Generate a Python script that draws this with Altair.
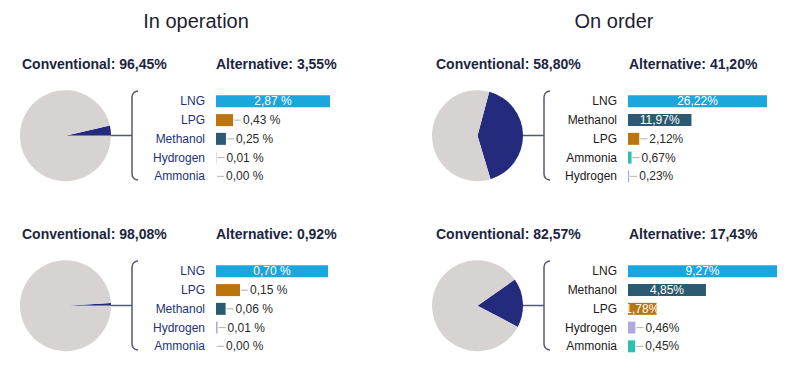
import math
import altair as alt
import pandas as pd

# ---------------- data ----------------
column_titles = ["In operation", "On order"]

conventional = [96.45, 58.80, 98.08, 82.57]   # top-left, top-right, bottom-left, bottom-right
alternative = [3.55, 41.20, 0.92, 17.43]

cats_tl = ["LNG", "LPG", "Methanol", "Hydrogen", "Ammonia"]
vals_tl = [2.87, 0.43, 0.25, 0.01, 0.00]

cats_tr = ["LNG", "Methanol", "LPG", "Ammonia", "Hydrogen"]
vals_tr = [26.22, 11.97, 2.12, 0.67, 0.23]

cats_bl = ["LNG", "LPG", "Methanol", "Hydrogen", "Ammonia"]
vals_bl = [0.70, 0.15, 0.06, 0.01, 0.00]

cats_br = ["LNG", "Methanol", "LPG", "Hydrogen", "Ammonia"]
vals_br = [9.27, 4.85, 1.78, 0.46, 0.45]

fuel_names = ["LNG", "LPG", "Methanol", "Hydrogen", "Ammonia"]
fuel_colors = ["#1ba6dd", "#bb750f", "#2c5a70", "#aeaadf", "#2ebfae"]
pie_names = ["Alternative", "Conventional"]
pie_colors = ["#242a7c", "#d7d3d2"]

FONT = "Liberation Sans"


def fmt(v):
    return f"{v:.2f}".replace(".", ",")


def panel(cats, vals, conv, altv, col, row, bar_len, n_inside, start_deg):
    W = 412 if col == 0 else 385
    H = 218 if row == 0 else 158
    dy = 0 if row == 0 else -48
    sep = " " if col == 0 else ""
    label_color = "#22327a" if col == 0 else "#1a1a1a"
    layers = []

    if row == 0:
        layers.append(
            alt.Chart(pd.DataFrame({"t": [column_titles[col]]}))
            .mark_text(font=FONT, fontSize=20, color="#1c1e33", align="center", baseline="middle")
            .encode(text="t:N", x=alt.value(196 if col == 0 else 202), y=alt.value(22))
        )

    heads = pd.DataFrame({
        "t": [f"Conventional: {fmt(conv)}%", f"Alternative: {fmt(altv)}%"],
        "x": [22 if col == 0 else 24, 216 if col == 0 else 217],
    })
    for i in range(2):
        layers.append(
            alt.Chart(heads.iloc[[i]])
            .mark_text(font=FONT, fontSize=14, fontWeight="bold", color="#1c2540",
                       align="left", baseline="middle")
            .encode(text="t:N", x=alt.value(float(heads["x"][i])), y=alt.value(65 + dy))
        )

    # pie
    pie_df = pd.DataFrame({"k": pie_names, "s": [altv, conv], "o": [0, 1]})
    s0 = math.radians(start_deg)
    layers.append(
        alt.Chart(pie_df)
        .mark_arc(radius=45.5)
        .encode(
            theta=alt.Theta("s:Q", stack=True, scale=alt.Scale(range=[s0, s0 + 2 * math.pi])),
            color=alt.Color("k:N", scale=alt.Scale(domain=pie_names, range=pie_colors), legend=None),
            order=alt.Order("o:Q"),
            x=alt.value(65.5),
            y=alt.value(135.7 + dy),
        )
    )

    line_col = "#555a72"
    # connector
    layers.append(
        alt.Chart(pd.DataFrame({"a": [0]}))
        .mark_rule(color=line_col, strokeWidth=1.5)
        .encode(x=alt.value(111), x2=alt.value(132), y=alt.value(135.5 + dy))
    )
    # bracket
    layers.append(
        alt.Chart(pd.DataFrame({"a": [0]}))
        .mark_rect(fill="white", stroke=line_col, strokeWidth=1.5, cornerRadius=6)
        .encode(x=alt.value(132), x2=alt.value(152), y=alt.value(91 + dy), y2=alt.value(180 + dy))
    )
    layers.append(
        alt.Chart(pd.DataFrame({"a": [0]}))
        .mark_rect(fill="white", strokeWidth=0)
        .encode(x=alt.value(138), x2=alt.value(155), y=alt.value(88 + dy), y2=alt.value(183 + dy))
    )

    # bars
    df = pd.DataFrame({"cat": cats, "v": vals})
    df["mid"] = df["v"] / 2
    df["lab"] = [fmt(v) + sep + "%" for v in vals]
    df["inside"] = [i < n_inside for i in range(len(cats))]

    yscale = alt.Scale(domain=cats, range=[92 + dy, 185.7 + dy], paddingInner=0.36, paddingOuter=0.18)
    xscale = alt.Scale(domain=[0, max(vals)], range=[216, 216 + bar_len], nice=False, zero=True)
    Y = alt.Y("cat:N", sort=cats, scale=yscale, axis=None, bandPosition=0.5)
    Yb = alt.Y("cat:N", sort=cats, scale=yscale, axis=None)

    base = alt.Chart(df)
    bars = base.mark_bar().encode(
        x=alt.X("v:Q", scale=xscale, axis=None),
        y=Yb,
        color=alt.Color("cat:N", scale=alt.Scale(domain=fuel_names, range=fuel_colors), legend=None),
    )
    cat_labels = base.mark_text(font=FONT, fontSize=12, color=label_color, align="right",
                                baseline="middle").encode(
        x=alt.value(205), y=Y, text="cat:N")
    inside = base.transform_filter("datum.inside").mark_text(
        font=FONT, fontSize=12, color="white", align="center", baseline="middle").encode(
        x=alt.X("mid:Q", scale=xscale, axis=None), y=Y, text="lab:N")
    leaders = base.transform_filter("!datum.inside").mark_rule(
        color="#b0b0b0", strokeWidth=1, xOffset=1, x2Offset=8).encode(
        x=alt.X("v:Q", scale=xscale, axis=None), x2="v:Q", y=Y)
    outside = base.transform_filter("!datum.inside").mark_text(
        font=FONT, fontSize=12, color="#2a2a2a", align="left", baseline="middle", dx=10).encode(
        x=alt.X("v:Q", scale=xscale, axis=None), y=Y, text="lab:N")

    bar_layer = alt.layer(bars, leaders, cat_labels, inside, outside)
    layers.append(bar_layer)

    return alt.layer(*layers).resolve_scale(color="independent", x="independent",
                                           y="independent").properties(width=W, height=H)


tl = panel(cats_tl, vals_tl, conventional[0], alternative[0], 0, 0, 114, 1, 77.2)
tr = panel(cats_tr, vals_tr, conventional[1], alternative[1], 1, 0, 139, 2, 15)
bl = panel(cats_bl, vals_bl, conventional[2], alternative[2], 0, 1, 112, 1, 86.7)
br = panel(cats_br, vals_br, conventional[3], alternative[3], 1, 1, 149, 3, 55)

chart = alt.vconcat(
    alt.hconcat(tl, tr, spacing=0),
    alt.hconcat(bl, br, spacing=0),
    spacing=0,
).properties(padding=0, background="white").configure_view(stroke=None)

chart.save("out.html", embed_options={"renderer": "svg", "actions": False})
